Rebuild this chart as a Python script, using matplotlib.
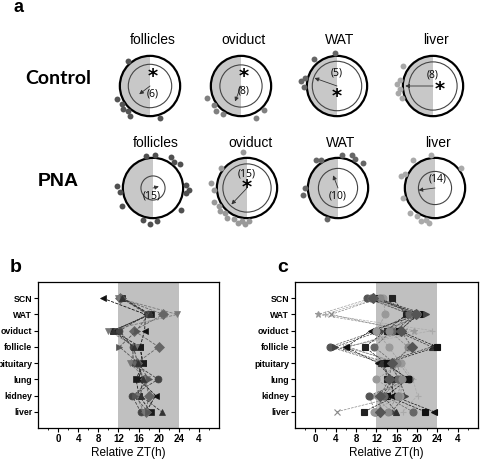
import numpy as np
import matplotlib
matplotlib.use("Agg")
import matplotlib.pyplot as plt
from matplotlib.patches import Circle, Wedge

plt.rcParams["font.family"] = ["Liberation Sans", "DejaVu Sans"]

# ---- panel a: phase plots (ZT, clockwise from top, 24 h) ----
tissues_a = ["follicles", "oviduct", "WAT", "liver"]
groups = ["Control", "PNA"]

ctrl_dots = [
    [10.8, 14.3, 14.8, 15.3, 15.8, 16.6, 21.2],
    [9.1, 10.3, 14.2, 15.0, 15.7, 16.7],
    [17.9, 18.5, 18.9, 21.3, 23.8],
    [16.6, 17.2, 17.6, 18.2, 18.7, 20.3],
]
pna_dots = [
    [0.2, 2.0, 2.6, 3.2, 5.7, 6.2, 6.6, 8.5, 11.5, 12.3, 13.2, 16.0, 17.5, 18.2, 23.2],
    [11.8, 12.2, 12.6, 13.0, 13.5, 14.3, 14.8, 15.3, 15.8, 16.5, 17.8, 18.5, 20.5, 23.6],
    [0.5, 1.5, 2.0, 3.0, 13.3, 17.3, 18.0, 21.5, 21.9],
    [3.5, 12.6, 13.0, 13.5, 14.2, 15.0, 16.8, 19.3, 19.7, 21.5, 23.5],
]
ctrl_arrow = [(15.5, 0.45), (13.4, 0.55), (19.3, 0.79), (18.0, 0.92)]
pna_arrow = [(5.0, 0.2), (14.9, 0.75), (22.6, 0.45), (17.5, 0.55)]
ctrl_n = ["(6)", "(8)", "(5)", "(8)"]
pna_n = ["(15)", "(15)", "(10)", "(14)"]
ctrl_sig = [True, True, True, True]
pna_sig = [False, True, False, False]

# ---- panels b / c ----
organs = ["SCN", "WAT", "oviduct", "follicle", "pituitary", "lung", "kidney", "liver"]
xtick_vals = [0, 4, 8, 12, 16, 20, 24, 28]
xtick_labels = ["0", "4", "8", "12", "16", "20", "24", "4"]

b_series = {
    "<": [8.9, 17.4, 17.2, 16.3, 16.8, 16.0, 19.4, 17.5],
    "s": [12.8, 18.4, 10.9, 16.3, 16.9, 15.5, 16.1, 18.4],
    "o": [12.6, 17.8, 12.2, 14.8, 15.0, 19.9, 14.7, 16.4],
    "D": [12.4, 20.9, 15.1, 20.0, 15.6, 17.2, 18.1, 17.4],
    "v": [12.0, 23.7, 10.0, 15.5, 14.3, 17.6, 15.6, 17.0],
    ">": [13.0, 18.0, 15.6, 12.2, 16.0, 18.0, 15.2, 17.8],
    "^": [12.8, 18.2, 11.0, 15.0, 15.8, 16.8, 16.4, 20.6],
}
b_colors = ["#111111", "#1a1a1a", "#444444", "#666666", "#777777", "#555555", "#333333"]

c_markers = ["*", "+", "x", "o", "s", "<", ">", "o", "^", "s", "o", "o", "D"]
c_colors = ["#999999", "#aaaaaa", "#888888", "#555555", "#222222", "#111111", "#444444",
            "#999999", "#333333", "#111111", "#666666", "#888888", "#555555"]
c_values = [
    [11.0, 0.6, 19.5, 6.2, 16.5, 18.8, 11.5, 15.0],
    [12.0, 1.9, 23.0, 5.5, 17.0, 19.2, 20.1, 17.2],
    [12.5, 3.1, 17.5, 6.5, 16.0, 17.0, 16.8, 4.2],
    [10.1, 18.8, 12.0, 2.8, 13.5, 18.5, 10.6, 11.7],
    [15.1, 17.9, 14.0, 9.7, 13.8, 14.0, 16.0, 9.6],
    [11.5, 20.5, 10.9, 6.0, 12.3, 15.3, 15.1, 23.4],
    [11.8, 21.8, 13.0, 3.9, 14.5, 16.5, 17.7, 15.0],
    [13.3, 13.8, 12.0, 14.4, 16.8, 12.0, 16.6, 11.5],
    [12.2, 19.5, 15.8, 22.9, 13.0, 15.0, 13.3, 15.9],
    [12.6, 20.3, 16.5, 23.9, 14.0, 18.2, 14.0, 21.6],
    [11.0, 18.5, 15.1, 11.6, 15.5, 16.2, 13.5, 19.2],
    [12.8, 20.0, 14.5, 18.2, 16.0, 17.0, 16.2, 14.3],
    [11.3, 19.8, 16.8, 19.0, 15.0, 14.5, 12.8, 12.7],
]

W, H = 480, 459
fig = plt.figure(figsize=(4.8, 4.59), dpi=100)


def fx(px):
    return px / W


def fy(py):
    return 1 - py / H


def pol(zt, r):
    th = np.deg2rad(np.asarray(zt) * 15.0)
    return r * np.sin(th), r * np.cos(th)


ctrl_style = dict(inner=[0.72, 0.70, 0.82, 0.80],
                  star=[(0.1, 0.32), (0.1, 0.3), (0.0, -0.35), (0.22, -0.1)],
                  num=[(0.1, -0.28), (0.1, -0.15), (0.0, 0.42), (0.0, 0.38)])
pna_style = dict(inner=[0.40, 0.80, 0.65, 0.55],
                 star=[None, (0.0, 0.0), None, None],
                 num=[(-0.05, -0.25), (0.0, 0.45), (0.0, -0.28), (0.08, 0.3)])
dot_cols = [["#555555", "#808080", "#666666", "#a8a8a8"],
            ["#505050", "#999999", "#666666", "#aaaaaa"]]

col_x = [[150, 241, 337, 433], [153, 247, 338, 435]]
row_y = [86, 188]
title_y = [40, 143]

fig.text(fx(14), fy(8), "a", fontsize=13, fontweight="bold", va="center", ha="left")
fig.text(fx(58), fy(78), "Control", fontsize=14, fontweight="bold", family="Lato",
         va="center", ha="center")
fig.text(fx(58), fy(181), "PNA", fontsize=14, fontweight="bold",
         va="center", ha="center")

all_dots = [ctrl_dots, pna_dots]
all_arrow = [ctrl_arrow, pna_arrow]
all_n = [ctrl_n, pna_n]
all_sig = [ctrl_sig, pna_sig]
styles = [ctrl_style, pna_style]

for g in range(2):
    for i, name in enumerate(tissues_a):
        cx, cy = col_x[g][i], row_y[g]
        size = 82
        ax = fig.add_axes([fx(cx - size / 2), fy(cy + size / 2), fx(size), size / H])
        ax.set_xlim(-1.36, 1.36)
        ax.set_ylim(-1.36, 1.36)
        ax.set_aspect("equal")
        ax.axis("off")
        ax.add_patch(Wedge((0, 0), 1, 90, 270, color="#c8c8c8", lw=0))
        ax.add_patch(Circle((0, 0), 1, fill=False, lw=1.6, color="black"))
        ax.add_patch(Circle((0, 0), styles[g]["inner"][i], fill=False, lw=0.8, color="#444444"))
        dots = all_dots[g][i]
        rr = [1.1 + 0.09 * (k % 2) for k in range(len(dots))]
        xs, ys = pol(dots, np.array(rr))
        ax.scatter(xs, ys, s=18, color=dot_cols[g][i], lw=0, zorder=3, clip_on=False)
        zt, ln = all_arrow[g][i]
        tx, ty = pol(zt, ln)
        ax.annotate("", xy=(tx, ty), xytext=(0, 0),
                    arrowprops=dict(arrowstyle="-|>", lw=0.6, color="#333333",
                                    mutation_scale=6, shrinkA=0, shrinkB=0))
        nx, ny = styles[g]["num"][i]
        ax.text(nx, ny, all_n[g][i], fontsize=7.5, family="Open Sans",
                ha="center", va="center")
        if all_sig[g][i]:
            sx, sy = styles[g]["star"][i]
            ax.text(sx, sy, "*", fontsize=14, fontweight="bold", family="DejaVu Sans",
                    ha="center", va="center")
        fig.text(fx(cx + 3), fy(title_y[g]), name, fontsize=10, ha="center", va="center")

# ---- panels b and c ----
ypos = np.arange(len(organs), 0, -1)


def setup_axis(ax):
    ax.axvspan(12, 24, color="#c0c0c0", lw=0, zorder=0)
    ax.set_xlim(-4, 32)
    ax.set_ylim(0, 9)
    ax.set_xticks(xtick_vals)
    ax.set_xticklabels(xtick_labels, fontsize=7, fontweight="bold")
    ax.set_xticks(np.arange(-2, 32, 2), minor=True)
    ax.set_yticks(ypos)
    ax.set_yticklabels(organs, fontsize=6.3, fontweight="bold")
    ax.tick_params(axis="both", which="major", length=3, width=0.8, pad=1.2)
    ax.tick_params(axis="x", which="minor", length=1.5, width=0.6)
    ax.set_xlabel("Relative ZT(h)", fontsize=8.5, labelpad=2)
    for sp in ax.spines.values():
        sp.set_linewidth(0.9)


axb = fig.add_axes([fx(38), fy(428), fx(181), 146 / H])
setup_axis(axb)
for (mk, vals), col in zip(b_series.items(), b_colors):
    axb.plot(vals, ypos, ls="--", lw=0.6, color=col, marker=mk, ms=5, mew=0.5, zorder=3)
fig.text(fx(10), fy(267), "b", fontsize=14, fontweight="bold", va="center")

axc = fig.add_axes([fx(295), fy(428), fx(183), 146 / H])
setup_axis(axc)
for mk, col, vals in zip(c_markers, c_colors, c_values):
    axc.plot(vals, ypos, ls="--", lw=0.5, color=col, marker=mk, ms=5, mew=0.8, zorder=3)
fig.text(fx(277), fy(267), "c", fontsize=14, fontweight="bold", va="center")

fig.savefig("out.png", dpi=100)
